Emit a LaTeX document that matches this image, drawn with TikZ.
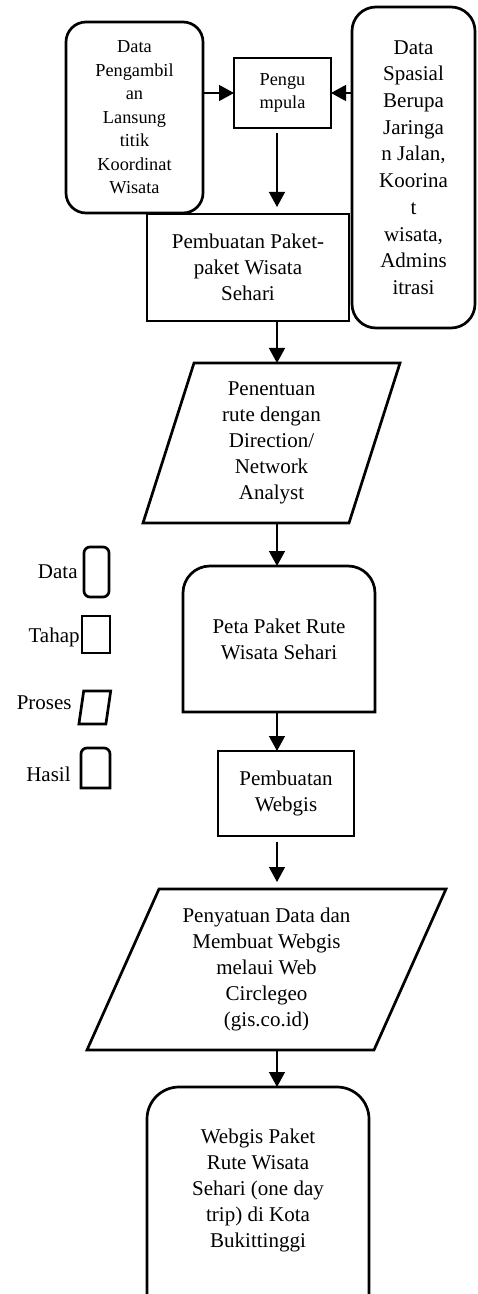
\documentclass[tikz,border=0pt]{standalone}
\usepackage{fontspec}
\setmainfont{Liberation Serif}
\usepackage{tikz}
\usetikzlibrary{arrows.meta}
\tikzset{>={Triangle[length=7.5pt,width=8pt]}}
\tikzset{
  box/.style={draw, line width=1.35pt, align=center, inner sep=0pt, outer sep=0pt, font=\bodyfont},
  plain/.style={align=center, inner sep=0pt, outer sep=0pt, font=\bodyfont},
  line/.style={line width=1.35pt, line join=miter},
  arr/.style={->, line width=0.65pt},
  lbl/.style={anchor=east, inner sep=0pt, font=\bodyfont}
}
\newcommand*{\bodyfont}{\fontsize{10.5}{13}\selectfont}
\newcommand*{\smallfont}{\fontsize{9.15}{11.75}\selectfont}

\begin{document}
\begin{tikzpicture}[x=0.5pt, y=-0.5pt]
    \useasboundingbox (0, 0) rectangle (477, 1294);
    \coordinate (lane) at (277, 0);
    % input data and gathering
    \node[box, rounded corners=10pt, minimum width=68.5pt, minimum height=95.5pt, font=\smallfont](datal)at(134.5, 117.5){Data\\Pengambil\\an\\Lansung\\titik\\Koordinat\\Wisata};
    \node[box, minimum width=48.5pt, minimum height=35pt, font=\smallfont](kumpul)at(282.5, 93){Pengu\\mpula};
    \node[box, rounded corners=12pt, minimum width=61.5pt, minimum height=160.5pt, font=\fontsize{10.5}{13.35}\selectfont](datar)at(413.5, 167.5){Data\\Spasial\\Berupa\\Jaringa\\n Jalan,\\Koorina\\t\\wisata,\\Admins\\itrasi};
    \node[box, minimum width=101pt, minimum height=53.5pt](paket)at(248, 267.5){Pembuatan Paket-\\paket Wisata\\Sehari};
    % route analysis
    \node[plain, minimum width=103pt, minimum height=80pt](rute)at(271.5, 443){Penentuan\\rute dengan\\Direction/\\Network\\Analyst};
    \draw[line]([xshift=12.75pt]rute.north west)--([xshift=12.75pt]rute.north east)--([xshift=-12.75pt]rute.south east)--([xshift=-12.75pt]rute.south west)--cycle;
    \node[plain, minimum width=96pt, minimum height=73pt](peta)at(279, 639){Peta Paket Rute\\Wisata Sehari};
    \draw[line](peta.south west)--([yshift=-13.5pt]peta.north west)arc[start angle=180, end angle=90, radius=13.5pt]--([xshift=-13.5pt]peta.north east)arc[start angle=90, end angle=0, radius=13.5pt]--(peta.south east)--cycle;
    % webgis
    \node[box, minimum width=68pt, minimum height=42.5pt](webgis)at(286, 793.5){Pembuatan\\Webgis};
    \node[plain, minimum width=143.5pt, minimum height=80.5pt](satu)at(266.5, 969.5){Penyatuan Data dan\\Membuat Webgis\\melaui Web\\Circlegeo\\(gis.co.id)};
    \draw[line]([xshift=18pt]satu.north west)--([xshift=18pt]satu.north east)--([xshift=-18pt]satu.south east)--([xshift=-18pt]satu.south west)--cycle;
    \node[plain, minimum width=111pt, minimum height=103.5pt](hasil)at(258, 1190.5){Webgis Paket\\Rute Wisata\\Sehari (one day\\trip) di Kota\\Bukittinggi};
    \draw[line](hasil.south west)--([yshift=-16pt]hasil.north west)arc[start angle=180, end angle=90, radius=16pt]--([xshift=-16pt]hasil.north east)arc[start angle=90, end angle=0, radius=16pt]--(hasil.south east);
    % arrows
    \draw[arr](datal.east |- kumpul.west)--(kumpul.west);
    \draw[arr](datar.west |- kumpul.east)--(kumpul.east);
    \draw[arr, shorten <=2.5pt, shorten >=3.5pt](kumpul.south -| lane)--(paket.north -| lane);
    \draw[arr](paket.south -| lane)--(rute.north -| lane);
    \draw[arr](rute.south -| lane)--(peta.north -| lane);
    \draw[arr](peta.south -| lane)--(webgis.north -| lane);
    \draw[arr, shorten <=3pt, shorten >=3.5pt](webgis.south -| lane)--(satu.north -| lane);
    \draw[arr](satu.south -| lane)--(hasil.north -| lane);
    % legend
    \node[box, rounded corners=3pt, minimum width=12.5pt, minimum height=25pt](kdata)at(96.5, 572){};
    \node[lbl](ldata)at(78, 572){Data};
    \node[box, minimum width=14pt, minimum height=18.5pt](ktahap)at(96, 634.5){};
    \node[lbl](ltahap)at(80, 637){Tahap};
    \node[plain, minimum width=13.5pt, minimum height=16.5pt](kproses)at(94.8, 707.5){};
    \draw[line]([xshift=1.2pt]kproses.north west)--([xshift=1.2pt]kproses.north east)--([xshift=-1.2pt]kproses.south east)--([xshift=-1.2pt]kproses.south west)--cycle;
    \node[lbl](lproses)at(72, 703){Proses};
    \node[plain, minimum width=14.5pt, minimum height=20pt](khasil)at(95.5, 768){};
    \draw[line](khasil.south west)--([yshift=-3pt]khasil.north west)arc[start angle=180, end angle=90, radius=3pt]--([xshift=-3pt]khasil.north east)arc[start angle=90, end angle=0, radius=3pt]--(khasil.south east)--cycle;
    \node[lbl](lhasil)at(71, 774){Hasil};
\end{tikzpicture}
\end{document}
